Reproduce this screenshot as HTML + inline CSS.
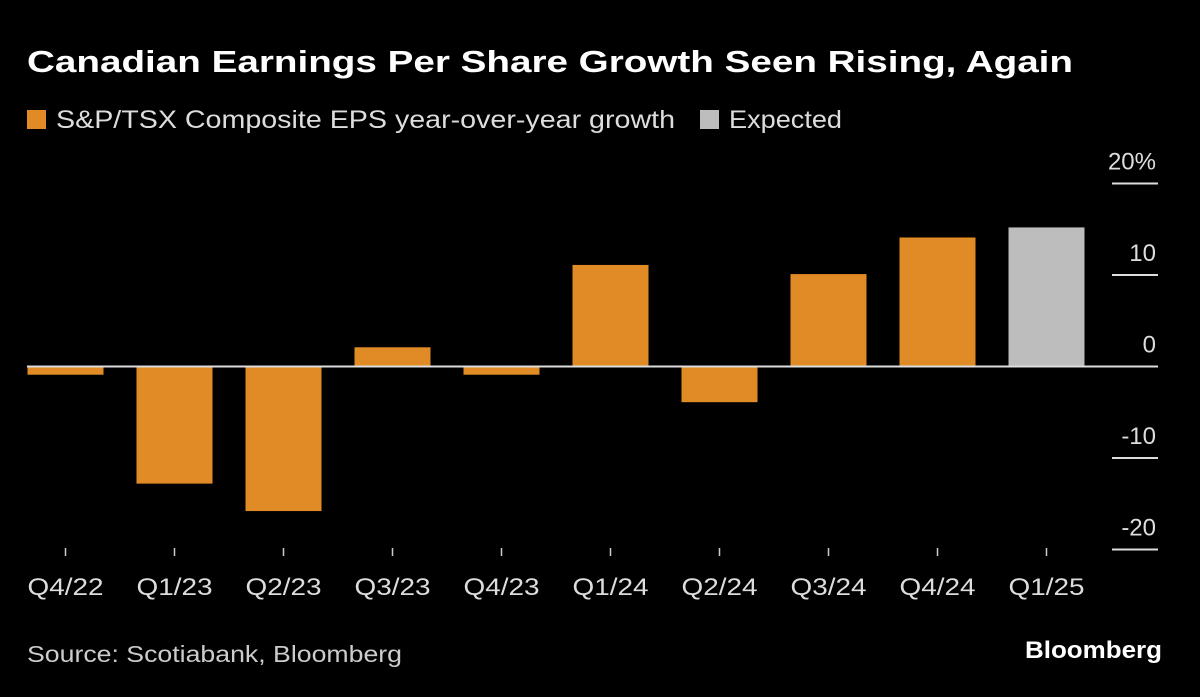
<!DOCTYPE html>
<html><head><meta charset="utf-8"><style>
body{margin:0;background:#000;width:1200px;height:692px;overflow:hidden;font-family:"Liberation Sans",sans-serif;color:#fff}
</style></head><body>
<svg width="1200" height="692" id="c">
<text x="27" y="72" font-size="31" font-weight="bold" fill="#fff" textLength="1046" lengthAdjust="spacingAndGlyphs">Canadian Earnings Per Share Growth Seen Rising, Again</text>
<rect x="27" y="110" width="19" height="19" fill="#e08b25"/>
<text x="56" y="128" font-size="25" fill="#ddd" textLength="619" lengthAdjust="spacingAndGlyphs">S&amp;P/TSX Composite EPS year-over-year growth</text>
<rect x="700" y="110" width="19" height="19" fill="#bdbdbd"/>
<text x="729" y="128" font-size="25" fill="#ddd" textLength="113" lengthAdjust="spacingAndGlyphs">Expected</text>
<g id="plot"></g>
<text x="27" y="662" font-size="23" fill="#ccc" textLength="375" lengthAdjust="spacingAndGlyphs">Source: Scotiabank, Bloomberg</text>
<text x="1162" y="658" font-size="24" font-weight="bold" fill="#fff" text-anchor="end" textLength="137" lengthAdjust="spacingAndGlyphs">Bloomberg</text>
</svg>
<script>
const categories=["Q4/22","Q1/23","Q2/23","Q3/23","Q4/23","Q1/24","Q2/24","Q3/24","Q4/24","Q1/25"];
const values=[-0.9,-12.8,-15.8,2.1,-0.9,11.1,-3.9,10.1,14.1,15.2];
const expected=[false,false,false,false,false,false,false,false,false,true];
const ticks=[20,10,0,-10,-20];
const ns="http://www.w3.org/2000/svg";
const g=document.getElementById('plot');
const y=v=>366.5-v*9.15;
const x=i=>65.5+i*109;
function mk(t,a){const e=document.createElementNS(ns,t);for(const k in a)e.setAttribute(k,a[k]);g.appendChild(e);return e;}
ticks.forEach(t=>{
  if(t!==0){const l=mk('line',{x1:1112,x2:1158,y1:y(t),y2:y(t),stroke:'#ddd','stroke-width':2});
  
  }
  const tx=mk('text',{x:1156,y:y(t)-14,'font-size':24,fill:'#ddd','text-anchor':'end'});
  tx.textContent=t===20?'20%':String(t);
  
  
});
values.forEach((v,i)=>{
  const r=mk('rect',{x:x(i)-38,width:76,y:Math.min(y(v),y(0)),height:Math.abs(y(v)-y(0)),fill:expected[i]?'#bdbdbd':'#e08b25'});
  
  
  const tk=mk('line',{x1:x(i),x2:x(i),y1:548,y2:556,stroke:'#ccc','stroke-width':1.5});
  
  
  const tl=mk('text',{x:x(i),y:595,'font-size':24,fill:'#ddd','text-anchor':'middle',textLength:76,lengthAdjust:'spacingAndGlyphs'});
  tl.textContent=categories[i];
  
  
});
const z=mk('line',{x1:27,x2:1158,y1:y(0),y2:y(0),stroke:'#ddd','stroke-width':2});


</script>
</body></html>
